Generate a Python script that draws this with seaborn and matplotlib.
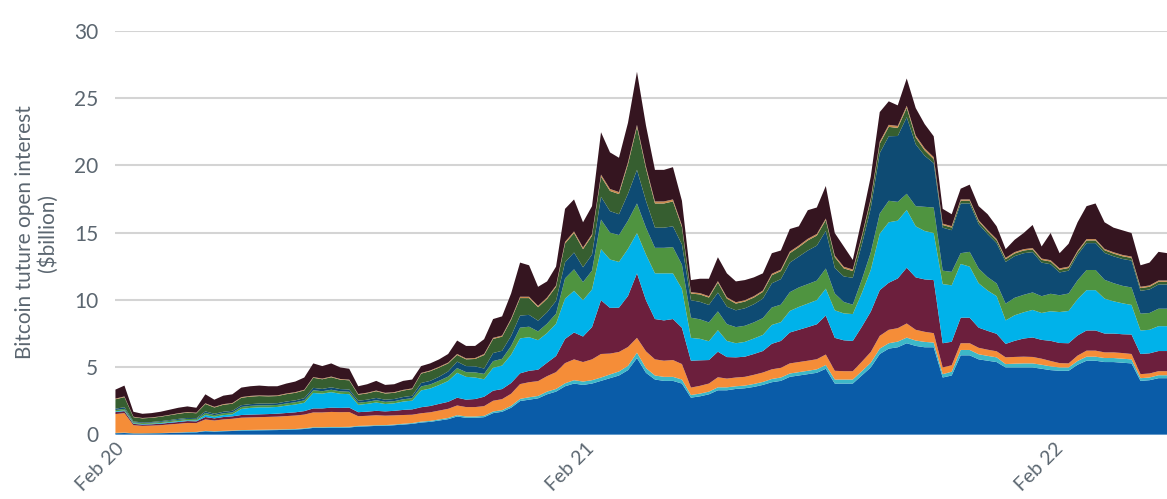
import numpy as np
import pandas as pd
import matplotlib
matplotlib.use("Agg")
import matplotlib.pyplot as plt
import matplotlib.dates as mdates
import seaborn as sns

# Weekly observations starting 2020-02-01 (118 weeks)
start_date = "2020-02-01"
n_weeks = 118

venue_blue = [0.10,0.12,0.08,0.08,0.09,0.10,0.12,0.14,0.16,0.17,0.25,0.22,0.25,0.27,0.30,0.31,0.32,0.33,0.34,0.36,
              0.38,0.42,0.50,0.50,0.52,0.52,0.53,0.60,0.62,0.65,0.66,0.70,0.75,0.80,0.90,0.95,1.05,1.15,1.35,1.25,
              1.25,1.30,1.60,1.70,2.00,2.50,2.60,2.70,3.00,3.20,3.60,3.80,3.70,3.80,4.00,4.20,4.40,4.80,5.70,4.60,
              4.10,4.00,4.00,3.80,2.75,2.85,3.00,3.30,3.30,3.40,3.45,3.55,3.70,3.90,4.00,4.30,4.40,4.50,4.60,4.90,
              3.80,3.80,3.80,4.40,5.00,6.00,6.40,6.50,6.80,6.60,6.50,6.50,4.25,4.40,5.90,5.90,5.60,5.50,5.40,5.00,
              5.00,5.00,5.00,4.90,4.80,4.75,4.75,5.20,5.50,5.50,5.40,5.40,5.35,5.30,4.00,4.05,4.20,4.20]
venue_teal = [0.03,0.03,0.02,0.02,0.02,0.02,0.02,0.02,0.03,0.03,0.03,0.03,0.03,0.03,0.04,0.04,0.04,0.04,0.04,0.04,
              0.04,0.05,0.05,0.05,0.05,0.05,0.05,0.05,0.05,0.05,0.05,0.05,0.06,0.06,0.07,0.07,0.08,0.09,0.10,0.10,
              0.10,0.10,0.12,0.12,0.14,0.16,0.18,0.18,0.20,0.20,0.22,0.25,0.25,0.25,0.25,0.28,0.30,0.32,0.40,0.35,
              0.30,0.30,0.30,0.30,0.20,0.20,0.20,0.22,0.22,0.20,0.20,0.22,0.22,0.24,0.25,0.25,0.25,0.25,0.26,0.28,
              0.30,0.30,0.30,0.32,0.35,0.40,0.40,0.42,0.42,0.40,0.40,0.35,0.25,0.28,0.40,0.40,0.38,0.36,0.35,0.25,
              0.28,0.30,0.30,0.30,0.28,0.25,0.25,0.28,0.30,0.30,0.30,0.30,0.30,0.30,0.20,0.20,0.22,0.22]
venue_orange = [1.40,1.45,0.60,0.55,0.56,0.58,0.62,0.65,0.68,0.66,0.85,0.80,0.85,0.88,0.92,0.93,0.94,0.95,0.96,0.98,
                1.00,1.02,1.10,1.10,1.12,1.10,1.10,0.72,0.73,0.74,0.70,0.68,0.65,0.62,0.62,0.64,0.66,0.68,0.72,0.70,
                0.70,0.72,0.80,0.82,0.90,1.10,1.12,1.10,1.15,1.25,1.50,1.55,1.45,1.55,1.75,1.55,1.45,1.40,1.10,1.25,
                1.20,1.20,1.25,1.15,0.55,0.58,0.60,0.75,0.65,0.65,0.65,0.68,0.70,0.72,0.72,0.75,0.75,0.75,0.75,0.78,
                0.65,0.62,0.62,0.70,0.80,0.95,1.00,1.00,1.05,0.80,0.75,0.70,0.50,0.48,0.50,0.50,0.48,0.46,0.45,0.50,
                0.50,0.50,0.48,0.45,0.40,0.32,0.30,0.40,0.45,0.45,0.42,0.42,0.42,0.40,0.30,0.30,0.30,0.30]
venue_maroon = [0.15,0.15,0.10,0.10,0.10,0.11,0.12,0.13,0.14,0.13,0.18,0.16,0.18,0.18,0.20,0.21,0.21,0.21,0.22,0.23,
                0.24,0.26,0.30,0.30,0.32,0.32,0.33,0.30,0.31,0.33,0.32,0.34,0.38,0.40,0.45,0.47,0.50,0.52,0.58,0.55,
                0.60,0.70,0.75,0.75,0.80,0.80,0.85,0.85,1.00,1.20,1.80,2.00,1.90,2.40,4.00,3.40,3.30,3.80,4.80,3.80,
                3.00,3.00,3.05,2.70,2.00,1.90,1.75,1.90,1.60,1.50,1.50,1.55,1.60,1.90,2.00,2.30,2.40,2.50,2.60,2.90,
                2.45,2.30,2.25,2.60,3.00,3.40,3.50,3.70,4.15,3.90,3.90,3.95,1.80,1.75,1.90,1.90,1.50,1.40,1.30,1.00,
                1.20,1.35,1.45,1.40,1.50,1.50,1.50,1.50,1.50,1.50,1.40,1.40,1.40,1.45,1.50,1.50,1.50,1.50]
venue_cyan = [0.05,0.05,0.04,0.04,0.04,0.05,0.05,0.06,0.06,0.06,0.15,0.12,0.14,0.15,0.45,0.50,0.52,0.50,0.50,0.55,
              0.58,0.62,1.15,1.10,1.15,1.05,1.00,0.55,0.58,0.62,0.55,0.56,0.62,0.65,1.25,1.30,1.40,1.55,1.85,1.70,
              1.60,1.30,1.70,1.75,2.10,2.60,2.50,2.20,2.20,2.40,3.00,3.10,2.70,2.80,3.80,3.60,3.40,3.50,3.00,3.40,
              3.40,3.50,3.40,2.90,1.70,1.60,1.40,1.60,1.20,1.05,1.10,1.15,1.20,1.40,1.40,1.60,1.70,1.75,1.80,2.00,
              2.05,2.00,2.00,2.50,3.10,4.20,4.50,4.30,4.30,3.80,3.60,3.50,4.40,4.20,4.00,3.80,3.30,3.00,2.80,1.75,
              1.90,1.95,2.05,2.00,2.20,2.30,2.40,2.70,3.00,3.00,2.60,2.40,2.30,2.20,1.75,1.75,1.85,1.85]
venue_green = [0.10,0.12,0.08,0.07,0.08,0.08,0.09,0.10,0.10,0.10,0.15,0.12,0.14,0.14,0.15,0.15,0.15,0.15,0.15,0.16,
               0.17,0.18,0.20,0.18,0.18,0.18,0.18,0.15,0.15,0.17,0.16,0.16,0.17,0.18,0.30,0.30,0.32,0.33,0.35,0.35,
               0.38,0.40,0.50,0.50,0.65,0.80,0.78,0.65,0.70,0.75,1.50,1.60,1.35,1.40,2.20,2.00,2.00,2.10,2.20,2.00,
               1.90,1.90,1.95,1.80,1.50,1.45,1.40,1.40,1.25,1.20,1.20,1.20,1.25,1.30,1.30,1.40,1.45,1.45,1.45,1.50,
               1.25,0.85,0.70,1.00,1.30,1.50,1.60,1.40,1.20,1.50,1.80,1.90,1.00,1.00,0.80,1.10,1.10,1.00,0.95,1.25,
               1.30,1.30,1.30,1.25,1.30,1.25,1.30,1.40,1.50,1.50,1.40,1.35,1.30,1.30,1.25,1.25,1.30,1.30]
venue_navy = [0.10,0.12,0.06,0.05,0.05,0.06,0.06,0.07,0.07,0.07,0.12,0.10,0.11,0.12,0.13,0.13,0.13,0.13,0.13,0.14,
              0.14,0.16,0.18,0.17,0.18,0.17,0.17,0.15,0.16,0.17,0.16,0.16,0.17,0.18,0.25,0.27,0.30,0.38,0.48,0.45,
              0.45,0.40,0.60,0.60,0.75,0.90,0.88,0.80,0.85,0.95,1.20,1.25,1.10,1.20,1.70,1.60,1.55,2.00,2.50,2.00,
              1.50,1.50,1.55,1.50,1.30,1.30,1.30,1.40,1.30,1.25,1.30,1.35,1.45,1.80,1.90,2.20,2.30,2.50,2.60,2.80,
              1.90,1.90,2.00,2.60,3.30,4.50,4.80,4.90,5.70,4.60,3.80,3.30,3.20,3.10,3.70,3.60,3.30,3.20,3.00,3.10,
              3.10,3.10,3.00,2.50,2.20,1.70,1.70,1.90,2.00,2.00,2.00,2.00,2.00,2.00,1.70,1.75,1.80,1.80]
venue_darkgreen = [0.70,0.75,0.32,0.30,0.31,0.33,0.36,0.38,0.40,0.37,0.55,0.47,0.52,0.53,0.55,0.56,0.56,0.54,0.53,0.55,
                   0.56,0.58,0.75,0.72,0.75,0.70,0.68,0.45,0.47,0.50,0.46,0.46,0.48,0.50,0.70,0.72,0.68,0.60,0.50,0.50,
                   0.55,1.00,1.05,1.05,1.20,1.30,1.25,1.00,1.00,1.05,1.40,1.45,1.35,1.40,1.50,1.50,1.50,2.20,3.20,2.40,
                   1.80,1.80,1.85,1.30,0.50,0.55,0.55,0.75,0.60,0.50,0.50,0.50,0.50,0.60,0.60,0.70,0.70,0.75,0.75,0.80,
                   0.80,0.60,0.50,0.55,0.60,0.70,0.70,0.60,0.70,0.50,0.40,0.30,0.20,0.20,0.20,0.20,0.20,0.20,0.20,0.20,
                   0.20,0.20,0.20,0.20,0.20,0.20,0.20,0.20,0.20,0.20,0.20,0.20,0.20,0.20,0.20,0.20,0.20,0.20]
venue_tan = [0.05,0.05,0.03,0.03,0.03,0.03,0.03,0.04,0.04,0.04,0.05,0.05,0.05,0.05,0.05,0.05,0.05,0.05,0.05,0.05,
             0.05,0.05,0.05,0.05,0.05,0.05,0.05,0.05,0.05,0.05,0.05,0.05,0.05,0.05,0.05,0.05,0.06,0.06,0.07,0.07,
             0.07,0.08,0.08,0.08,0.09,0.10,0.10,0.10,0.10,0.10,0.12,0.12,0.12,0.12,0.15,0.15,0.15,0.15,0.15,0.15,
             0.15,0.15,0.15,0.12,0.10,0.10,0.10,0.10,0.10,0.10,0.10,0.10,0.10,0.11,0.11,0.12,0.12,0.12,0.12,0.12,
             0.12,0.12,0.12,0.12,0.13,0.15,0.15,0.15,0.15,0.15,0.15,0.15,0.10,0.10,0.10,0.10,0.10,0.10,0.10,0.10,
             0.10,0.10,0.10,0.10,0.10,0.10,0.10,0.10,0.10,0.10,0.10,0.10,0.10,0.10,0.10,0.10,0.10,0.10]
venue_black = [0.67,0.81,0.37,0.31,0.32,0.34,0.38,0.41,0.42,0.37,0.67,0.53,0.63,0.65,0.71,0.72,0.73,0.70,0.68,0.74,
               0.79,0.91,1.02,0.93,0.98,0.86,0.81,0.58,0.63,0.72,0.59,0.59,0.67,0.66,0.51,0.53,0.55,0.64,1.00,0.93,
               0.90,1.10,1.40,1.43,1.87,2.54,2.34,1.42,1.20,1.40,2.46,2.38,1.88,2.08,3.15,2.72,2.55,2.93,3.95,3.05,
               2.35,2.35,2.40,1.83,0.90,1.07,1.30,1.78,1.78,1.55,1.50,1.40,1.28,1.53,1.42,1.68,1.43,2.13,1.97,2.42,
               1.68,1.51,0.71,1.21,1.62,2.20,1.75,1.53,2.03,2.05,1.80,1.55,1.10,0.89,0.80,1.10,1.04,1.18,0.95,0.65,
               0.92,1.20,1.72,0.90,2.02,1.13,1.70,2.12,2.45,2.65,1.98,1.83,1.83,1.75,1.60,1.70,2.13,2.03]

series = [venue_blue, venue_teal, venue_orange, venue_maroon, venue_cyan,
          venue_green, venue_navy, venue_darkgreen, venue_tan, venue_black]
colors = ["#0A5CA8", "#3DB8C8", "#F58D38", "#6C1F3D", "#00B2EA",
          "#4F9440", "#0E4B73", "#365E30", "#C98A4F", "#351520"]

tick_dates = ["2020-02-01", "2021-02-01", "2022-02-01"]
tick_labels = ["Feb 20", "Feb 21", "Feb 22"]
y_ticks = [0, 5, 10, 15, 20, 25, 30]

dates = pd.date_range(start_date, periods=n_weeks, freq="7D")

sns.set_theme(style="white")
plt.rcParams['font.family'] = ['Lato', 'DejaVu Sans']

fig = plt.figure(figsize=(11.67, 4.99), dpi=100)
ax = fig.add_axes([0.0985, 0.130, 0.9015, 0.808])

ax.stackplot(dates, *[np.array(s) for s in series], colors=colors, linewidth=0, zorder=3)

ax.set_ylim(0, 30)
ax.set_xlim(dates[0], dates[-1])
ax.set_yticks(y_ticks)
ax.set_xticks(pd.to_datetime(tick_dates))
ax.set_xticklabels(tick_labels, rotation=45, ha="right", rotation_mode="anchor")

ax.grid(axis="y", color="#D4D4D4", linewidth=1.5, zorder=0)
ax.grid(axis="x", visible=False)
for sp in ax.spines.values():
    sp.set_visible(False)

ax.tick_params(axis="y", length=0, pad=12, labelsize=15, labelcolor="#5B6670")
ax.tick_params(axis="x", length=0, pad=4, labelsize=14, labelcolor="#5B6670")
ax.set_ylabel("Bitcoin tuture open interest\n($billion)", fontsize=15, color="#5B6670",
              linespacing=1.1, labelpad=12)

fig.savefig("out.png", dpi=100)
